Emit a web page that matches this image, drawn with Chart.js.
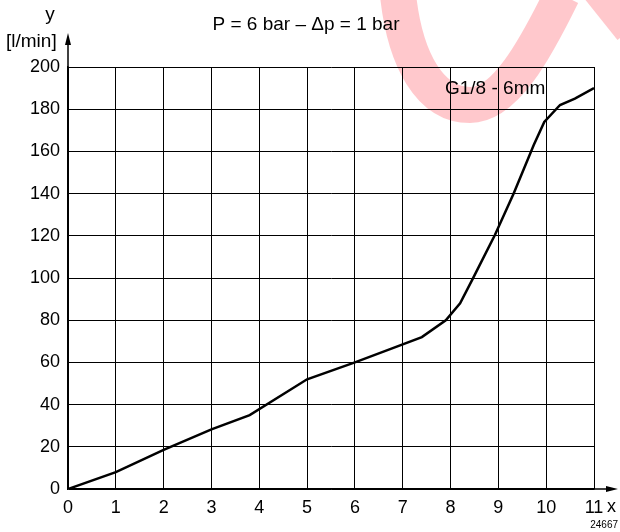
<!DOCTYPE html>
<html><head><meta charset="utf-8">
<script src="https://cdn.jsdelivr.net/npm/chart.js@4/dist/chart.umd.min.js"></script>
<style>html,body{margin:0;padding:0;background:#fff}#wrap{width:620px;height:532px;position:relative}</style>
</head><body><div id="wrap"><canvas id="c" width="620" height="532"></canvas></div>
<script>
const xValues = [0, 1, 2, 3, 3.8, 5, 6, 6.75, 7.4, 7.9, 8.2, 8.45, 8.93, 9.32, 9.74, 9.96, 10.29, 10.6, 11];
const yValues = [0, 8, 18.5, 28.3, 35, 52, 60, 66.4, 72, 80, 88, 99, 120.5, 140, 163, 174, 182, 185, 190];
const xTicks = [0,1,2,3,4,5,6,7,8,9,10,11];
const yTicks = [0,20,40,60,80,100,120,140,160,180,200];
const titleText = 'P = 6 bar \u2013 \u0394p = 1 bar';
const seriesLabel = 'G1/8 - 6mm';
const yAxisName = 'y';
const yAxisUnit = '[l/min]';
const xAxisName = 'x';
const figureCode = '24667';

const FONT = '"Liberation Sans", Arial, Helvetica, sans-serif';

const decor = {
  id: 'decor',
  beforeDraw(chart) {
    const ctx = chart.ctx;
    ctx.save();
    ctx.strokeStyle = 'rgba(255,190,195,0.85)';
    ctx.lineCap = 'butt';
    ctx.lineWidth = 36;
    ctx.beginPath();
    ctx.moveTo(398, -5);
    ctx.bezierCurveTo(405, 60, 430, 105, 470, 105);
    ctx.bezierCurveTo(505, 105, 535, 50, 562, -5);
    ctx.stroke();
    ctx.lineWidth = 32;
    ctx.beginPath();
    ctx.moveTo(598, -10);
    ctx.lineTo(630, 30);
    ctx.stroke();
    ctx.restore();
  },
  afterDraw(chart) {
    const ctx = chart.ctx;
    const xs = chart.scales.x, ys = chart.scales.y;
    const x0 = xs.getPixelForValue(0), x1 = xs.getPixelForValue(11);
    const y0 = ys.getPixelForValue(0), y1 = ys.getPixelForValue(200);
    ctx.save();
    ctx.strokeStyle = '#000'; ctx.fillStyle = '#000'; ctx.lineWidth = 1.5;
    ctx.beginPath(); ctx.moveTo(x0, y1); ctx.lineTo(x0, 40); ctx.stroke();
    ctx.beginPath(); ctx.moveTo(x0, 33); ctx.lineTo(x0 - 3, 45); ctx.lineTo(x0 + 3, 45); ctx.closePath(); ctx.fill();
    ctx.beginPath(); ctx.moveTo(x1, y0); ctx.lineTo(610, y0); ctx.stroke();
    ctx.beginPath(); ctx.moveTo(618, y0); ctx.lineTo(606, y0 - 3); ctx.lineTo(606, y0 + 3); ctx.closePath(); ctx.fill();
    ctx.fillStyle = '#000';
    ctx.textBaseline = 'middle';
    ctx.font = '19px ' + FONT;
    ctx.textAlign = 'center';
    ctx.fillText(titleText, 306, 25);
    ctx.fillText(yAxisName, 50, 15);
    ctx.textAlign = 'left';
    ctx.fillText(seriesLabel, 445, 89);
    ctx.fillText(yAxisUnit, 6, 42);
    ctx.font = '18px ' + FONT;
    ctx.fillText(xAxisName, 607, 507);
    ctx.font = '10px ' + FONT;
    ctx.textAlign = 'right';
    ctx.fillText(figureCode, 618, 525);
    ctx.restore();
  }
};

new Chart(document.getElementById('c'), {
  type: 'scatter',
  data: {
    datasets: [{
      label: seriesLabel,
      data: xValues.map((x, i) => ({x, y: yValues[i]})),
      showLine: true,
      borderColor: '#000',
      borderWidth: 2.5,
      pointRadius: 0,
      tension: 0,
      fill: false
    }]
  },
  options: {
    responsive: false,
    animation: false,
    devicePixelRatio: 1,
    layout: { padding: { top: 67, right: 26, left: 0, bottom: 0 } },
    plugins: { legend: { display: false }, tooltip: { enabled: false }, title: { display: false } },
    scales: {
      x: {
        type: 'linear', min: 0, max: 11,
        afterBuildTicks(s) { s.ticks = xTicks.map(v => ({value: v})); },
        afterFit(s) { s.height = 43; },
        grid: { color: '#000', lineWidth: 1, drawTicks: false },
        border: { color: '#000', width: 1.5 },
        ticks: { color: '#000', font: { family: FONT, size: 18 }, padding: 8, maxRotation: 0 }
      },
      y: {
        type: 'linear', min: 0, max: 200,
        afterBuildTicks(s) { s.ticks = yTicks.map(v => ({value: v})); },
        afterFit(s) { s.width = 68; },
        grid: { color: '#000', lineWidth: 1, drawTicks: false },
        border: { color: '#000', width: 1.5 },
        ticks: { color: '#000', font: { family: FONT, size: 18 }, padding: 8 }
      }
    }
  },
  plugins: [decor]
});
</script></body></html>
